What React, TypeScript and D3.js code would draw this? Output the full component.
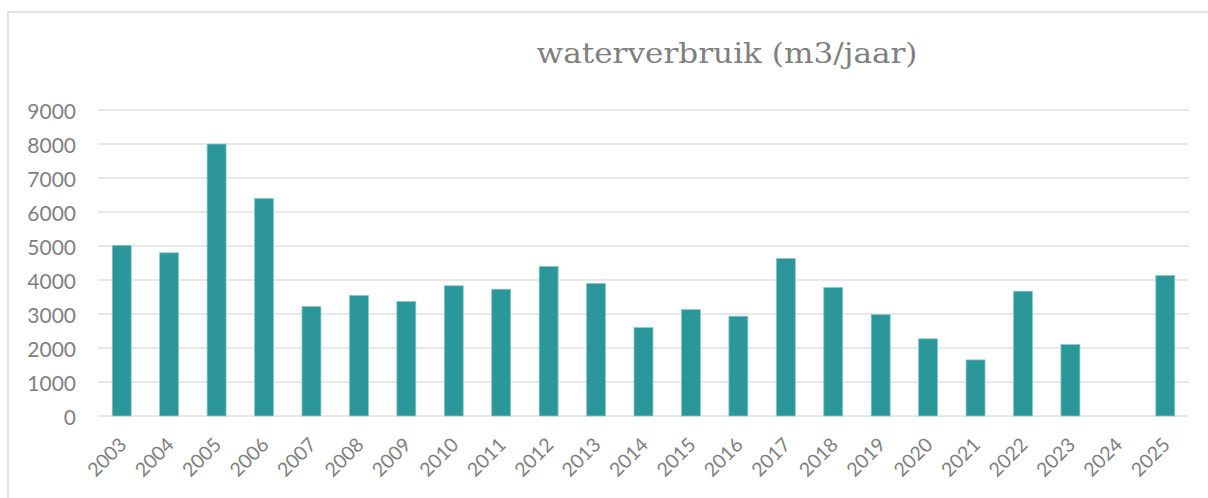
import React from "react";
import { scaleBand, scaleLinear, range } from "d3";

// jaar-categorieën en verbruik (m3), 2024 heeft geen waarde
const years = [
  "2003", "2004", "2005", "2006", "2007", "2008", "2009", "2010", "2011", "2012", "2013", "2014",
  "2015", "2016", "2017", "2018", "2019", "2020", "2021", "2022", "2023", "2024", "2025",
];
const usage: (number | null)[] = [
  5020, 4800, 8000, 6400, 3220, 3545, 3370, 3830, 3730, 4400, 3900, 2600,
  3130, 2935, 4635, 3780, 2985, 2270, 1650, 3670, 2100, null, 4135,
];
const yTicks = range(0, 9001, 1000);
const title = "waterverbruik (m3/jaar)";

const W = 1208;
const H = 498;
const plot = { left: 98, right: 1189, top: 110, bottom: 416 };

export default function App() {
  const x = scaleBand()
    .domain(years)
    .range([plot.left, plot.right])
    .paddingInner(0.6)
    .paddingOuter(0.3);

  const y = scaleLinear().domain([0, 9000]).range([plot.bottom, plot.top]);

  return (
    <svg
      width={W}
      height={H}
      style={{ position: "absolute", left: 0, top: 0, background: "#fff" }}
    >
      {/* kader */}
      <rect x={8} y={12} width={W} height={H} fill="none" stroke="#e2e2e2" strokeWidth={2} />

      {/* titel */}
      <text
        x={727}
        y={63}
        textAnchor="middle"
        fontFamily="DejaVu Serif"
        fontSize={28}
        fill="#7f7f7f"
        textLength={381}
        lengthAdjust="spacingAndGlyphs"
      >
        {title}
      </text>

      {/* rasterlijnen + y-labels */}
      {yTicks.map((t) => (
        <g key={t}>
          <line
            x1={plot.left}
            x2={plot.right}
            y1={y(t)}
            y2={y(t)}
            stroke="#e0e0e0"
            strokeWidth={1.5}
          />
          <text
            x={76}
            y={y(t)}
            textAnchor="end"
            dominantBaseline="central"
            fontFamily="Lato"
            fontSize={21}
            fill="#7f7f7f"
          >
            {t}
          </text>
        </g>
      ))}

      {/* staven */}
      {years.map((yr, i) => {
        const v = usage[i];
        if (v == null) return null;
        return (
          <rect
            key={yr}
            x={x(yr)}
            y={y(v)}
            width={x.bandwidth()}
            height={y(0) - y(v)}
            fill="#2b979b"
            stroke="#8ccacc"
            strokeWidth={0.75}
          />
        );
      })}

      {/* x-labels */}
      {years.map((yr) => {
        const cx = (x(yr) as number) + x.bandwidth() / 2;
        return (
          <text
            key={yr}
            transform={`translate(${cx + 6},446) rotate(-45)`}
            textAnchor="end"
            fontFamily="Lato"
            fontSize={19.5}
            fill="#7f7f7f"
          >
            {yr}
          </text>
        );
      })}
    </svg>
  );
}
